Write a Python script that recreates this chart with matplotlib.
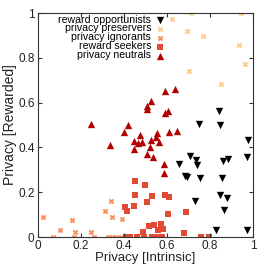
import matplotlib
matplotlib.use('Agg')
from matplotlib import pyplot as plt

plt.rcParams['font.family'] = ['Liberation Sans', 'DejaVu Sans']

# reward opportunists
opp_x = [0.843, 0.747, 0.848, 0.978, 0.707, 0.735, 0.738, 0.657, 0.859, 0.886, 0.973,
         0.685, 0.691, 0.753, 0.856, 0.847, 0.877, 0.730, 0.863, 0.829, 0.971]
opp_y = [0.562, 0.503, 0.499, 0.434, 0.363, 0.345, 0.323, 0.327, 0.341, 0.350, 0.357,
         0.271, 0.268, 0.263, 0.263, 0.188, 0.172, 0.159, 0.121, 0.033, 0.033]

# privacy preservers
pres_x = [0.625, 0.712, 0.943, 0.694, 0.769, 0.933, 0.961, 0.702, 0.850]
pres_y = [0.973, 0.998, 0.998, 0.918, 0.897, 0.857, 0.771, 0.740, 0.684]

# privacy ignorants
ign_x = [0.022, 0.158, 0.104, 0.174, 0.248, 0.338, 0.312, 0.346, 0.389,
         0.071, 0.166, 0.259, 0.327, 0.346, 0.362, 0.385]
ign_y = [0.088, 0.076, 0.030, 0.024, 0.024, 0.161, 0.115, 0.091, 0.079,
         0.0, 0.0, 0.0, 0.0, 0.0, 0.0, 0.0]

# reward seekers
seek_x = [0.453, 0.499, 0.453, 0.505, 0.403, 0.415, 0.445, 0.530, 0.589, 0.609,
          0.606, 0.687, 0.518, 0.541, 0.571, 0.557, 0.583, 0.490, 0.679, 0.758,
          0.794, 0.411, 0.427, 0.462, 0.493, 0.530, 0.552, 0.575]
seek_y = [0.249, 0.232, 0.186, 0.158, 0.133, 0.116, 0.140, 0.183, 0.189, 0.177,
          0.101, 0.112, 0.050, 0.054, 0.058, 0.031, 0.036, 0.024, 0.016, 0.0,
          0.0, 0.0, 0.0, 0.0, 0.0, 0.0, 0.0, 0.0]

# privacy neutrals
neu_x = [0.592, 0.636, 0.527, 0.507, 0.507, 0.589, 0.603, 0.248, 0.420, 0.400,
         0.473, 0.553, 0.611, 0.645, 0.335, 0.445, 0.485, 0.465, 0.547, 0.526,
         0.563, 0.445, 0.520, 0.506, 0.536, 0.585, 0.585]
neu_y = [0.653, 0.661, 0.608, 0.585, 0.570, 0.555, 0.564, 0.504, 0.500, 0.469,
         0.455, 0.463, 0.469, 0.473, 0.409, 0.430, 0.425, 0.418, 0.445, 0.433,
         0.425, 0.393, 0.400, 0.371, 0.358, 0.326, 0.287]

ticks = [0, 0.2, 0.4, 0.6, 0.8, 1]
tick_text = ['0', '0.2', '0.4', '0.6', '0.8', '1']

fig = plt.figure(figsize=(2.66, 2.66), dpi=100)
ax = fig.add_axes([0.143, 0.109, 0.808, 0.842])

ax.scatter(opp_x, opp_y, marker='v', s=28, c='black', linewidths=0, label='reward opportunists')
ax.scatter(pres_x, pres_y, marker='X', s=16, c='#fdcc8a', linewidths=0, label='privacy preservers')
ax.scatter(ign_x, ign_y, marker='X', s=16, c='#fc8d59', linewidths=0, label='privacy ignorants')
ax.scatter(seek_x, seek_y, marker='s', s=18, c='#e34a33', linewidths=0, label='reward seekers')
ax.scatter(neu_x, neu_y, marker='^', s=28, c='#b30000', linewidths=0, label='privacy neutrals')

ax.set_xlim(0, 1)
ax.set_ylim(0, 1)
ax.set_xticks(ticks)
ax.set_xticklabels(tick_text)
ax.set_yticks(ticks)
ax.set_yticklabels(tick_text)
for s in ax.spines.values():
    s.set_color('#333333')
ax.tick_params(direction='in', top=True, right=True, labelsize=8.5, length=3, pad=2.5,
               colors='#333333', labelcolor='#222222')
ax.set_xlabel('Privacy [Intrinsic]', fontsize=9.5, labelpad=0, color='#222222')
ax.set_ylabel('Privacy [Rewarded]', fontsize=10, labelpad=1, color='#222222')

ax.legend(loc='upper right', bbox_to_anchor=(0.59, 0.998), markerfirst=False, frameon=False,
          fontsize=7.6, borderpad=0.1, borderaxespad=0, labelspacing=-0.1,
          handlelength=0.8, handletextpad=0.4, scatterpoints=1)

plt.savefig('out.png', dpi=100)
